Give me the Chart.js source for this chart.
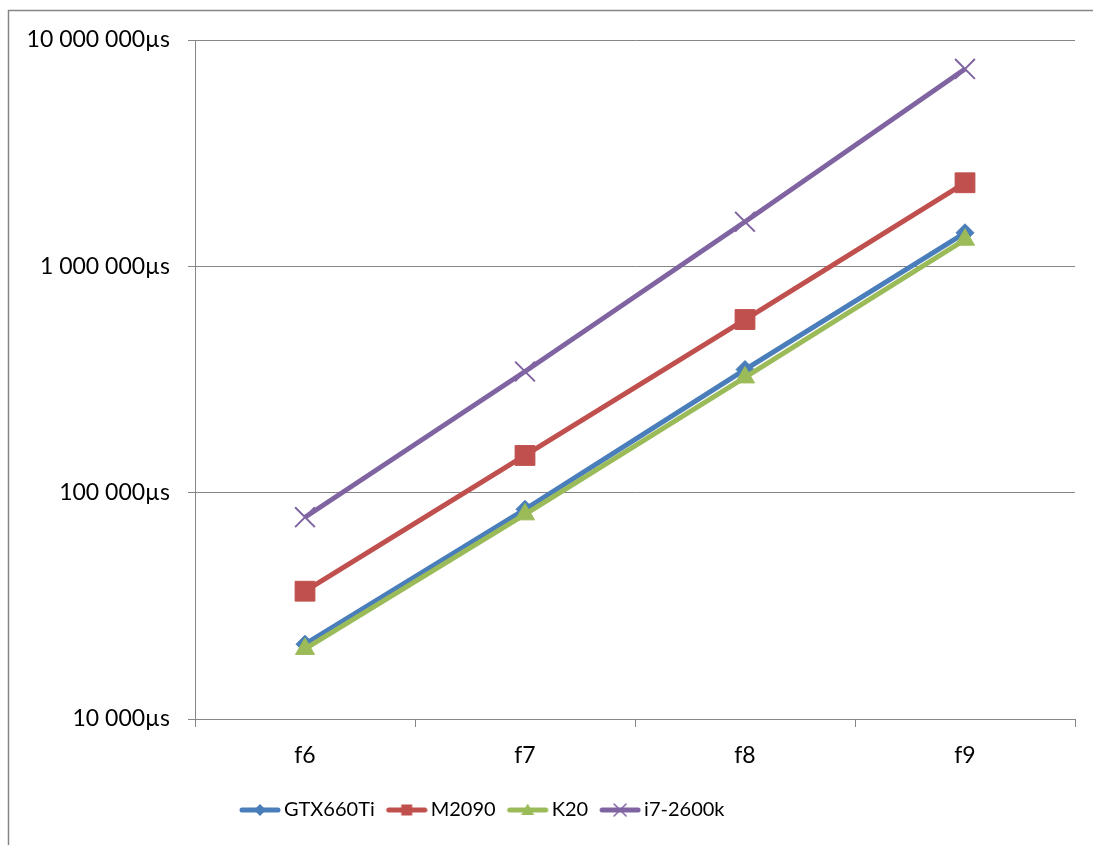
<!DOCTYPE html>
<html>
<head>
<meta charset="utf-8">
<script src="https://cdn.jsdelivr.net/npm/chart.js@4"></script>
<style>
  html, body { margin: 0; padding: 0; background: #fff; }
  #wrap { width: 1093px; height: 845px; position: relative; }
</style>
</head>
<body>
<div id="wrap"><canvas id="chart"></canvas></div>
<script>
/* données (µs, échelle log) */
const categories = ['f6', 'f7', 'f8', 'f9'];
const gtx660ti   = [21400, 84400, 350000, 1407000];
const m2090      = [36700, 146000, 582000, 2340000];
const k20        = [20400, 80200, 323000, 1311000];
const i7_2600k   = [77900, 343000, 1574000, 7450000];
const yTicks     = [10000, 100000, 1000000, 10000000];

const GRID = '#868686';
const FONT = 'Lato';

/* 10000 -> "10 000µs" */
function fmtUs(v) {
  return String(Math.round(v)).replace(/\B(?=(\d{3})+(?!\d))/g, ' ') + 'µs';
}

/* icône de légende : trait + marqueur */
function legendIcon(color, style) {
  const c = document.createElement('canvas');
  c.width = 46; c.height = 16;
  const g = c.getContext('2d');
  const cx = 25, cy = 8;
  g.strokeStyle = color;
  g.fillStyle = color;
  g.lineWidth = 5;
  g.lineCap = 'round';
  g.beginPath(); g.moveTo(7, cy); g.lineTo(43, cy); g.stroke();
  g.beginPath();
  if (style === 'rectRot') {
    g.moveTo(cx - 6, cy); g.lineTo(cx, cy - 6); g.lineTo(cx + 6, cy); g.lineTo(cx, cy + 6);
    g.closePath(); g.fill();
  } else if (style === 'rect') {
    g.rect(cx - 5.5, cy - 5.5, 11, 11); g.fill();
  } else if (style === 'triangle') {
    g.moveTo(cx, cy - 6.5); g.lineTo(cx + 6.5, cy + 5); g.lineTo(cx - 6.5, cy + 5);
    g.closePath(); g.fill();
  } else {
    g.lineWidth = 1.5;
    g.moveTo(cx - 6, cy - 6); g.lineTo(cx + 6, cy + 6);
    g.moveTo(cx + 6, cy - 6); g.lineTo(cx - 6, cy + 6);
    g.stroke();
  }
  return c;
}

function series(label, data, color, style, radius, order) {
  return {
    label, data, order,
    borderColor: color,
    backgroundColor: color,
    borderWidth: 5,
    pointStyle: style,
    pointRadius: radius,
    pointHoverRadius: radius,
    pointBackgroundColor: color,
    pointBorderColor: color,
    pointBorderWidth: style === 'crossRot' ? 2 : 1,
    tension: 0,
    legendIcon: legendIcon(color, style),
  };
}

/* cadre extérieur (haut + gauche seulement) */
const frame = {
  id: 'frame',
  afterLayout(chart) {
    /* légende décalée vers la gauche comme dans l'original */
    const lg = chart.legend;
    const w = lg.right - lg.left;
    lg.left = 228;
    lg.right = 228 + w;
  },
  afterDraw(chart) {
    const ctx = chart.ctx;
    ctx.save();
    ctx.strokeStyle = GRID;
    ctx.lineWidth = 1.5;
    ctx.beginPath();
    ctx.moveTo(8.5, 845); ctx.lineTo(8.5, 10.5); ctx.lineTo(1093, 10.5);
    ctx.stroke();
    ctx.restore();
  }
};

new Chart(document.getElementById('chart'), {
  type: 'line',
  data: {
    labels: categories,
    datasets: [
      series('GTX660Ti',  gtx660ti, '#4A7EBB', 'rectRot',  9,  4),
      series('M2090',     m2090,    '#C0504D', 'rect',     14, 3),
      series('K20',       k20,      '#9BBB59', 'triangle', 11, 2),
      series('i7-2600k',  i7_2600k, '#8064A2', 'crossRot', 14, 1),
    ],
  },
  options: {
    responsive: true,
    maintainAspectRatio: false,
    animation: false,
    layout: { padding: { left: 0, right: 18, top: 40, bottom: 15 } },
    scales: {
      x: {
        type: 'category',
        offset: true,
        grid: { drawOnChartArea: false, offset: true, tickLength: 8, color: GRID },
        border: { color: GRID, width: 1 },
        ticks: { color: '#000', font: { family: FONT, size: 23 }, padding: 15 },
        afterFit: s => { s.height = 67; },
      },
      y: {
        type: 'logarithmic',
        min: 10000,
        max: 10000000,
        afterBuildTicks: s => { s.ticks = yTicks.map(v => ({ value: v })); },
        grid: { color: GRID, tickLength: 7 },
        border: { color: GRID, width: 1 },
        ticks: {
          color: '#000',
          font: { family: FONT, size: 23 },
          padding: 18,
          callback: v => fmtUs(v),
        },
        afterFit: s => { s.width = 195; },
      },
    },
    plugins: {
      tooltip: { enabled: false },
      legend: {
        position: 'bottom',
        align: 'start',
        labels: {
          usePointStyle: true,
          pointStyleWidth: 32,
          padding: 14,
          color: '#000',
          font: { family: FONT, size: 20 },
          generateLabels: chart => chart.data.datasets.map((ds, i) => ({
            text: ds.label,
            pointStyle: ds.legendIcon,
            fillStyle: ds.borderColor,
            strokeStyle: ds.borderColor,
            lineWidth: 0,
            hidden: false,
            datasetIndex: i,
            fontColor: '#000',
          })),
        },
      },
    },
  },
  plugins: [frame],
});
</script>
</body>
</html>
